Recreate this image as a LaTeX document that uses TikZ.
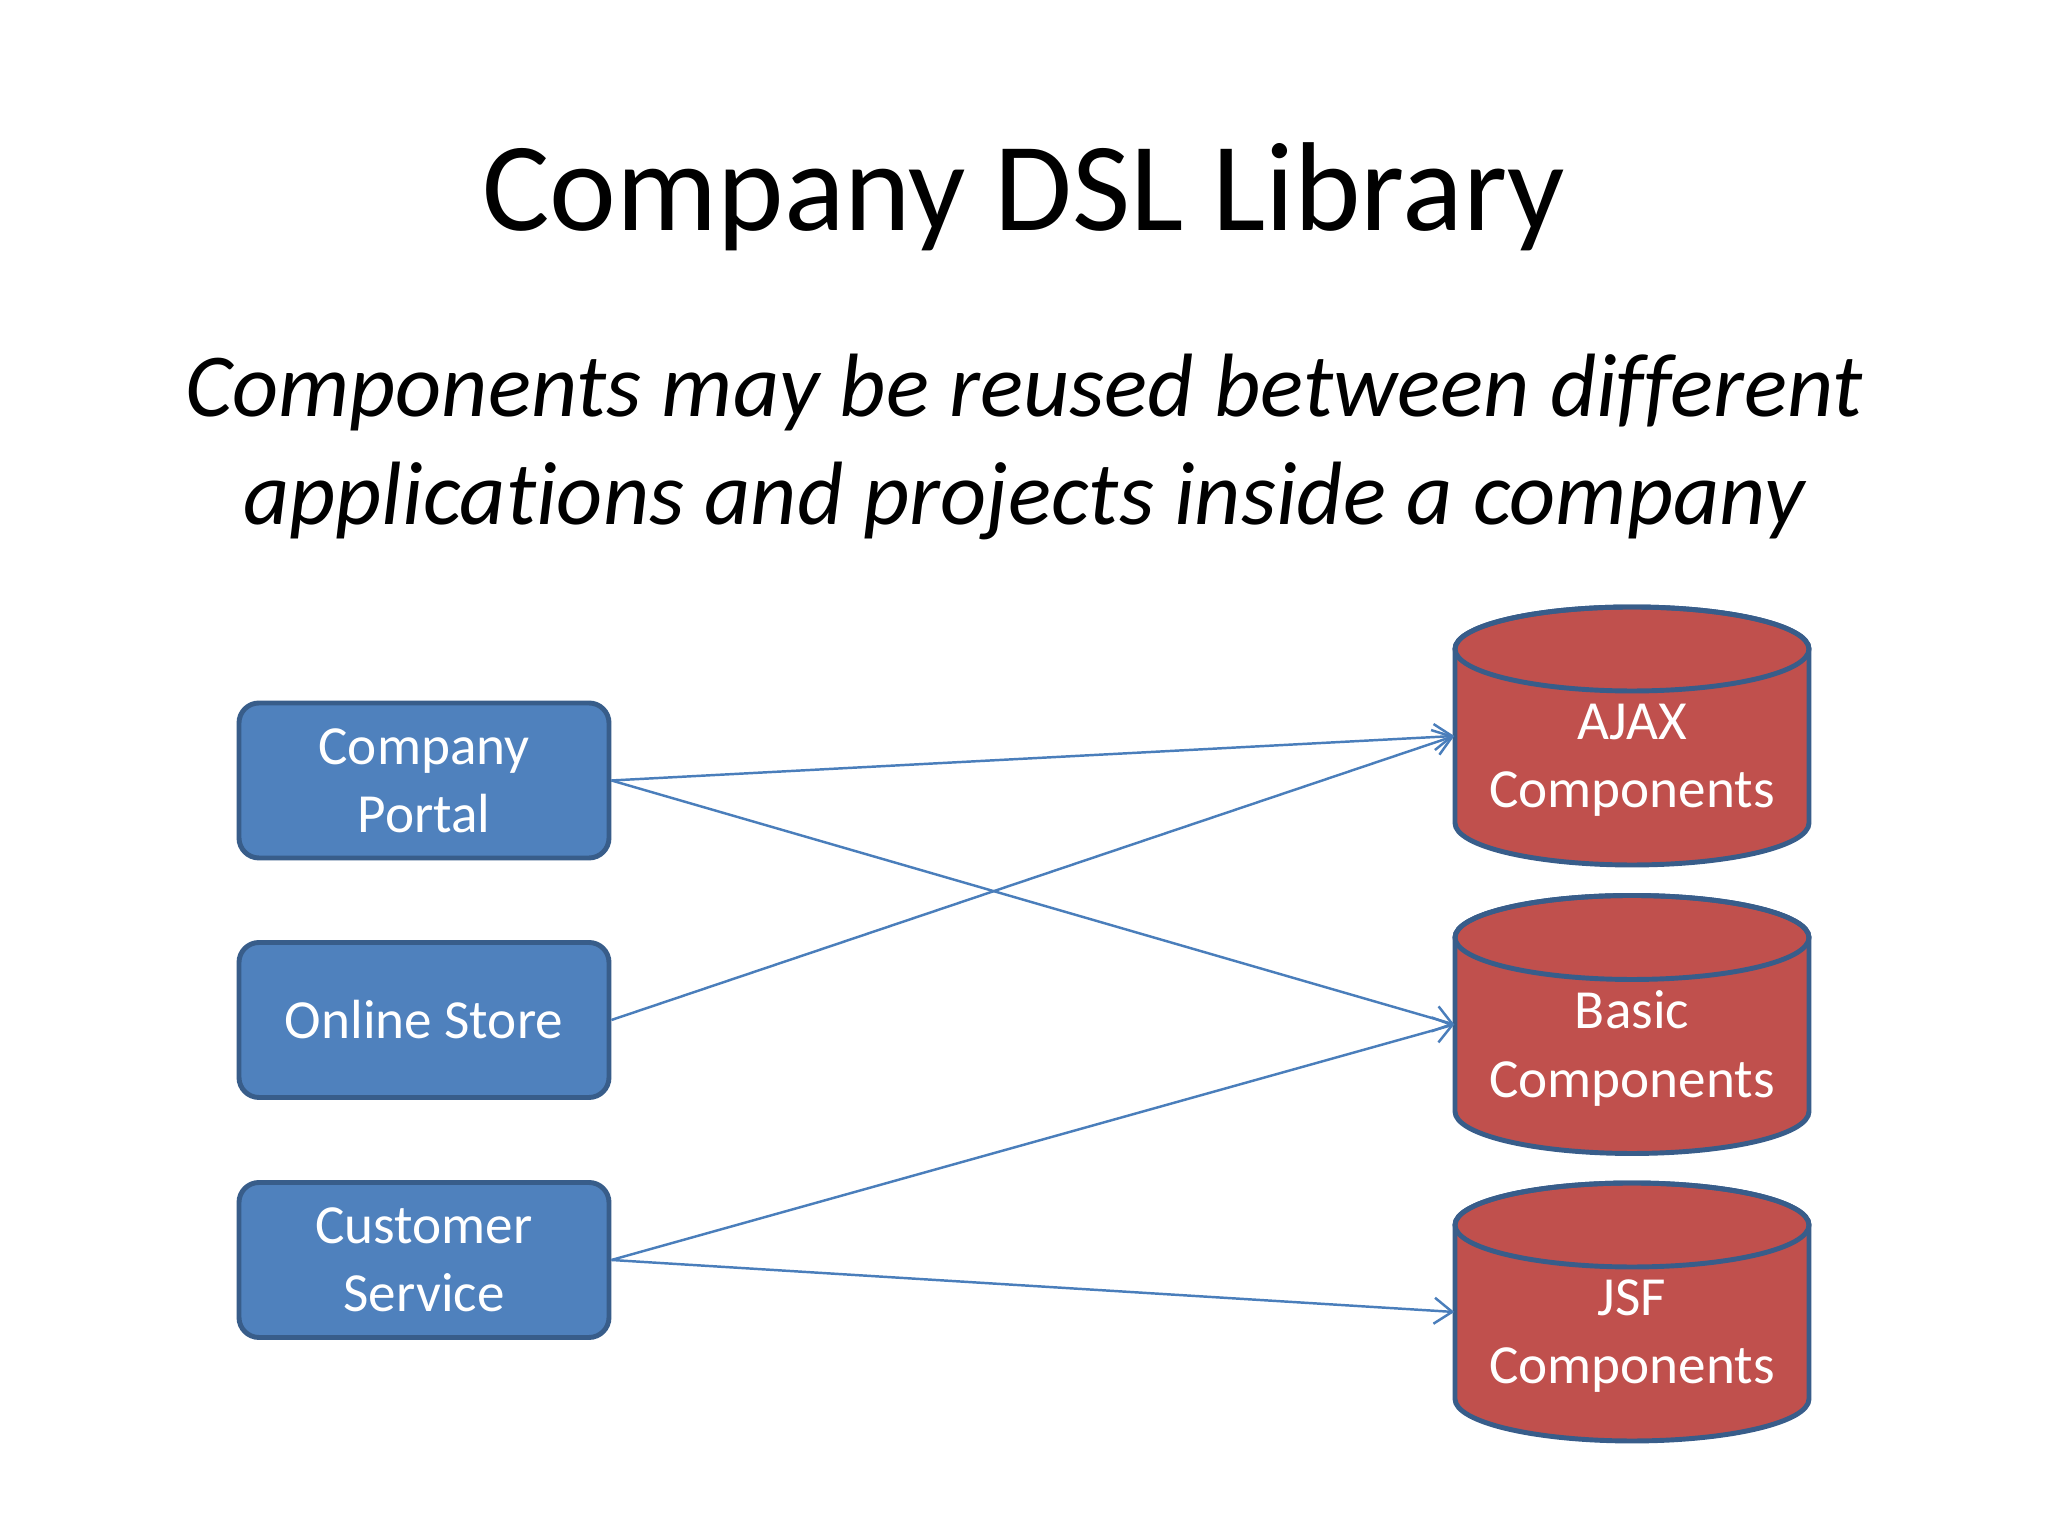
\documentclass[tikz,border=0pt]{standalone}
\usepackage{fontspec}
\setmainfont{Carlito}[Ligatures=NoCommon]
\usetikzlibrary{arrows.meta}
\definecolor{boxblue}{HTML}{4F81BD}
\definecolor{edgeblue}{HTML}{385D8A}
\definecolor{drumred}{HTML}{C0504D}
\definecolor{linkblue}{HTML}{4A7EBB}

% cylinder drawn round the empty node #1
\newcommand{\drum}[1]{%
  \begin{scope}[shift={(#1.center)}]
    \filldraw[fill=drumred,draw=edgeblue,line width=1.4pt] (-1.77,.87) -- (-1.77,-.87)
      arc[start angle=180,end angle=360,x radius=1.77,y radius=.42] -- (1.77,.87)
      arc[start angle=0,end angle=180,x radius=1.77,y radius=.42] -- cycle;
    \draw[edgeblue,line width=1.4pt] (0,.87) ellipse[x radius=1.77,y radius=.42];
  \end{scope}}

\begin{document}
\begin{tikzpicture}[scale=1,
  appbox/.style={rectangle,rounded corners=.2cm,fill=boxblue,draw=edgeblue,line width=1.4pt,
    minimum width=3.70cm,minimum height=1.55cm,inner sep=0pt,text=white,align=center,
    font=\fontsize{15.7}{19.4}\selectfont},
  drumbox/.style={rectangle,minimum width=3.54cm,minimum height=2.58cm,inner sep=0pt},
  drumtext/.style={text=white,align=center,font=\fontsize{15.7}{19.4}\selectfont},
  link/.style={linkblue,line width=.7pt,-{Straight Barb[length=.18cm,width=.26cm]}}]
\fill[white] (0,0) rectangle (20.48,15.36);
\useasboundingbox (0,0) rectangle (20.48,15.36);
\node[anchor=base,font=\fontsize{36}{43}\selectfont] (title) at (10.24,13.05) {Company DSL Library};
\node[anchor=base,align=center,font=\fontsize{25.6}{31}\selectfont\itshape] (subtitle) at (10.24,10.11)
  {Components may be reused between different\\applications and projects inside a company};
\node[appbox] (portal) at (4.24,7.555) {Company\\Portal};
\node[appbox] (store) at (4.24,5.16) {Online Store};
\node[appbox] (service) at (4.24,2.76) {Customer\\Service};
\node[drumbox] (ajax) at (16.32,8.00) {}; \drum{ajax}
\node[drumbox] (basic) at (16.32,5.115) {}; \drum{basic}
\node[drumbox] (jsf) at (16.32,2.24) {}; \drum{jsf}
\node[drumtext] (ajaxtext) at ([yshift=-.24cm]ajax.center) {AJAX\\Components};
\node[drumtext] (basictext) at ([yshift=-.24cm]basic.center) {Basic\\Components};
\node[drumtext] (jsftext) at ([yshift=-.24cm]jsf.center) {JSF\\Components};
\draw[link] (portal.east) -- (ajax.west);
\draw[link] (portal.east) -- (basic.west);
\draw[link] (store.east) -- (ajax.west);
\draw[link] (service.east) -- (basic.west);
\draw[link] (service.east) -- (jsf.west);
\end{tikzpicture}
\end{document}
